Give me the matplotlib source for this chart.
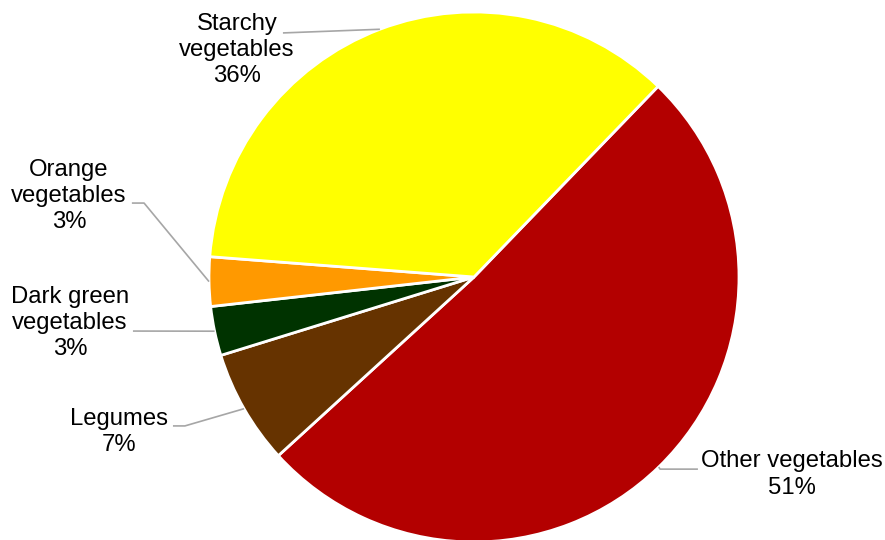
import numpy as np
import matplotlib
matplotlib.use("Agg")
import matplotlib.pyplot as plt

plt.rcParams["font.family"] = ["Liberation Sans", "DejaVu Sans"]

labels = ["Other vegetables", "Legumes", "Dark green\nvegetables", "Orange\nvegetables", "Starchy\nvegetables"]
shares = [51, 7, 3, 3, 36]
colors = ["#B30000", "#663300", "#003300", "#FF9900", "#FFFF00"]

# label centres and leader-line elbows (data units, pie radius = 1)
text_pos = [(1.20, -0.745), (-1.34, -0.585), (-1.525, -0.174), (-1.528, 0.306), (-0.894, 0.857)]
elbows = [
    [(0.702, -0.725), (0.845, -0.725)],
    [(-1.091, -0.562), (-1.136, -0.562)],
    [(-1.287, -0.204)],
    [(-1.245, 0.279), (-1.291, 0.279)],
    [(-0.721, 0.921)],
]

fig = plt.figure(figsize=(8.85, 5.4), dpi=100)
ax = fig.add_axes([0, 0, 1, 1])
wedges, _ = ax.pie(shares, colors=colors, startangle=46, counterclock=False,
                   radius=1, wedgeprops=dict(edgecolor="white", linewidth=2.0))

for w, lab, val, tp, pts in zip(wedges, labels, shares, text_pos, elbows):
    mid = np.deg2rad((w.theta1 + w.theta2) / 2)
    edge = (np.cos(mid), np.sin(mid))
    xs = [edge[0]] + [p[0] for p in pts]
    ys = [edge[1]] + [p[1] for p in pts]
    ax.plot(xs, ys, color="#A6A6A6", lw=1.2, solid_capstyle="butt")
    ax.text(tp[0], tp[1], f"{lab}\n{val}%", ha="center", va="center",
            fontsize=17.2, linespacing=1.25, color="black")

ax.set_xlim((0 - 474) / 265, (885 - 474) / 265)
ax.set_ylim((277 - 540) / 265, 277 / 265)
ax.set_aspect("auto")
ax.axis("off")

fig.savefig("out.png", dpi=100)
